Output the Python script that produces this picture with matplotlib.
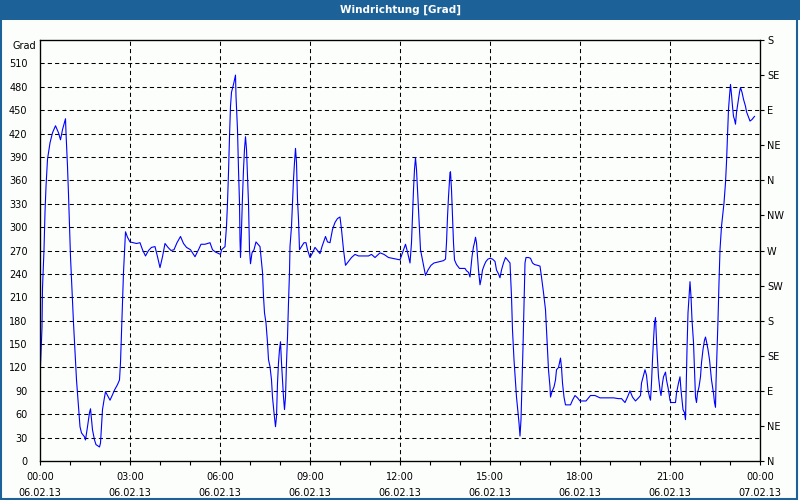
import matplotlib
matplotlib.use("Agg")
import matplotlib.pyplot as plt
from matplotlib.patches import Rectangle
from matplotlib.ticker import MultipleLocator

# minutes since 06.02.13 00:00
minutes = [
    1, 4, 5, 8, 10, 12, 15, 20, 25, 31, 37, 41, 45, 51, 52, 55, 57, 59, 61, 63,
    65, 67, 69, 71, 73, 75, 78, 80, 83, 89, 91, 95, 99, 101, 103, 105, 109, 112, 119, 121,
    123, 125, 128, 131, 135, 140, 145, 149, 155, 159, 161, 163, 165, 167, 171, 175, 180, 187, 193, 200,
    205, 211, 217, 223, 230, 235, 240, 245, 250, 256, 262, 268, 274, 281, 287, 293, 301, 310, 317, 322,
    330, 340, 345, 351, 361, 363, 370, 373, 375, 377, 379, 381, 383, 387, 391, 392, 395, 397, 399, 400,
    401, 403, 405, 407, 409, 411, 413, 415, 417, 419, 421, 424, 428, 432, 436, 440, 442, 445, 447, 449,
    452, 455, 457, 460, 463, 465, 468, 471, 473, 475, 477, 479, 481, 483, 485, 487, 489, 491, 493, 495,
    497, 499,
    500, 503, 505, 507, 509, 511, 513, 515, 517, 519, 523, 528, 532, 535, 540, 545, 550, 555, 560, 564,
    571, 575, 580, 585, 590, 595, 600, 603, 607, 611, 617, 623, 630, 637, 647, 657, 663, 670, 680, 688,
    697, 705, 713, 720, 725, 731, 735, 740, 743, 745, 747, 749, 751, 753, 755, 757, 759, 761, 765, 768,
    771, 776, 782, 788, 795, 801, 807, 811, 813, 815, 817, 819,
    820, 821, 823, 825, 827, 829, 833, 839, 844, 850, 853, 857, 860, 862, 864, 867, 869, 871, 873, 875,
    877, 880, 883, 885, 889, 892, 896, 900, 905, 910, 913, 917, 920, 923, 927, 931, 935, 940, 943, 945,
    948, 951, 953, 956, 958, 960, 962, 964, 966, 968, 970, 972, 977, 981, 985, 989, 995, 1000, 1003, 1007,
    1011, 1013, 1015, 1017, 1020, 1021, 1024, 1028, 1031, 1033, 1037, 1041, 1043, 1045, 1048, 1051, 1057, 1061, 1065, 1070,
    1075, 1080, 1087, 1092, 1097, 1101, 1110, 1120,
    1127, 1137, 1147, 1157, 1163, 1170, 1175, 1180, 1185, 1191, 1197, 1201, 1203, 1207, 1210, 1213, 1216, 1219, 1221, 1223,
    1225, 1227, 1229, 1231, 1233, 1235, 1237, 1240, 1242, 1245, 1247, 1251, 1253, 1257, 1260, 1262, 1267, 1271, 1273, 1277,
    1280, 1282, 1284, 1286, 1289, 1291, 1292, 1294, 1296, 1298, 1300, 1302, 1304, 1307, 1309, 1311, 1313, 1315, 1318, 1321,
    1323, 1326, 1329, 1331, 1333, 1336, 1339, 1341, 1343, 1345, 1347, 1349, 1351, 1352, 1354, 1356, 1358, 1360, 1363, 1365,
    1368, 1371, 1373, 1375, 1377, 1379, 1381, 1383, 1385, 1387, 1389, 1391, 1393, 1396, 1399, 1401, 1404, 1407, 1411, 1413,
    1417, 1420, 1424, 1429,
]

degrees = [
    123, 171, 222, 271, 319, 352, 387, 408, 421, 430, 421, 412, 425, 439, 421, 378, 342, 301, 262, 233,
    207, 177, 152, 126, 104, 87, 62, 44, 36, 31, 27, 44, 62, 67, 53, 40, 27, 21, 18, 23,
    44, 66, 78, 89, 84, 78, 85, 91, 98, 104, 126, 164, 203, 242, 294, 287, 281, 280, 279, 280,
    271, 263, 270, 274, 275, 262, 248, 262, 279, 274, 270, 271, 280, 288, 279, 274, 271, 262, 271, 278,
    278, 280, 271, 268, 265, 271, 275, 301, 331, 370, 416, 455, 473, 483, 495, 468, 425, 374, 331, 284,
    261, 297, 339, 374, 400, 416, 400, 365, 331, 271, 253, 267, 271, 281, 278, 275, 262, 242, 211, 190,
    177, 152, 130, 121, 104, 82, 62, 44, 57, 100, 126, 143, 153, 126, 104, 82, 66, 82, 126, 159,
    203, 242,
    275, 301, 331, 361, 383, 401, 383, 335, 310, 271, 275, 280, 280, 271, 261, 267, 274, 270, 266, 275,
    288, 281, 280, 297, 306, 311, 313, 297, 271, 251, 256, 261, 265, 263, 263, 263, 265, 261, 267, 265,
    261, 260, 259, 258, 267, 278, 268, 254, 280, 313, 348, 374, 389, 374, 348, 322, 297, 271, 258, 248,
    238, 245, 251, 254, 255, 256, 257, 259, 280, 313, 339, 361,
    370, 371, 348, 313, 280, 258, 252, 247, 247, 247, 244, 242, 236, 249, 262, 275, 280, 287, 280, 262,
    245, 226, 236, 245, 252, 256, 259, 260, 259, 256, 245, 240, 235, 245, 254, 261, 258, 254, 211, 168,
    130, 100, 82, 62, 49, 32, 53, 100, 146, 203, 254, 261, 261, 260, 254, 252, 251, 250, 236, 216,
    194, 168, 143, 117, 95, 82, 89, 95, 104, 117, 120, 132, 120, 100, 82, 72, 72, 72, 78, 84,
    81, 77, 77, 77, 81, 84, 84, 81,
    81, 81, 81, 80, 80, 75, 82, 90, 82, 77, 81, 84, 100, 110, 117, 110, 91, 82, 78, 100,
    130, 155, 177, 184, 155, 130, 108, 91, 84, 100, 108, 114, 104, 91, 78, 75, 75, 75, 87, 100,
    108, 91, 78, 66, 62, 53, 82, 143, 190, 211, 230, 211, 181, 152, 117, 82, 75, 87, 95, 108,
    126, 143, 155, 159, 153, 143, 130, 117, 104, 95, 87, 75, 69, 100, 139, 181, 229, 271, 301, 313,
    331, 357, 383, 416, 451, 468, 483, 470, 455, 442, 438, 432, 447, 460, 473, 479, 473, 464, 455, 448,
    441, 436, 438, 442,
]

x_labels = ["00:00\n06.02.13", "03:00\n06.02.13", "06:00\n06.02.13", "09:00\n06.02.13",
            "12:00\n06.02.13", "15:00\n06.02.13", "18:00\n06.02.13", "21:00\n06.02.13",
            "00:00\n07.02.13"]
compass = ["N", "NE", "E", "SE", "S", "SW", "W", "NW", "N", "NE", "E", "SE", "S"]

bar_color = "#1c6298"
bg = "#fcfefc"

fig = plt.figure(figsize=(8, 5), dpi=100)
fig.patch.set_facecolor(bg)

ax = fig.add_axes([40 / 800, 39 / 500, 720 / 800, 421 / 500])
ax.set_facecolor(bg)
ax.plot(minutes, degrees, color="#0000ff", lw=0.8, zorder=3)

ax.set_xlim(0, 1440)
ax.set_ylim(0, 540)

ax.set_xticks(range(0, 1441, 180))
ax.set_xticklabels(x_labels)
ax.xaxis.set_minor_locator(MultipleLocator(60))
for lbl in ax.get_xticklabels():
    lbl.set_linespacing(1.75)
ax.tick_params(axis="x", which="both", direction="out", length=3, width=0.8,
               labelsize=7, pad=5)

ax.set_yticks(range(0, 511, 30))
ax.tick_params(axis="y", length=0, labelsize=7, pad=9)

# dashed grid, skipping the frame edges
for m in range(180, 1440, 180):
    ax.axvline(m, color="black", lw=0.75, ls=(0, (4, 3)), zorder=1)
for d in range(30, 540, 30):
    ax.axhline(d, color="black", lw=0.75, ls=(0, (4, 3)), zorder=1)

for spine in ax.spines.values():
    spine.set_linewidth(0.9)

ax2 = ax.twinx()
ax2.set_ylim(0, 540)
ax2.set_yticks(range(0, 541, 45))
ax2.set_yticklabels(compass)
ax2.tick_params(axis="y", direction="out", length=3, width=0.8, labelsize=7, pad=2)

fig.text(36 / 800, 1 - 46 / 500, "Grad", ha="right", va="center", fontsize=7)

# window title bar and border
fig.add_artist(Rectangle((0, 1 - 20 / 500), 1, 20 / 500, transform=fig.transFigure,
                         facecolor=bar_color, edgecolor="none"))
fig.add_artist(Rectangle((0.001, 0.002), 0.995, 0.99, transform=fig.transFigure,
                         fill=False, edgecolor=bar_color, lw=1.5))
fig.text(0.5, 1 - 10 / 500, "Windrichtung [Grad]", ha="center", va="center",
         color="white", fontsize=7.5, fontweight="bold")

fig.savefig("out.png", dpi=100, facecolor=fig.get_facecolor())
